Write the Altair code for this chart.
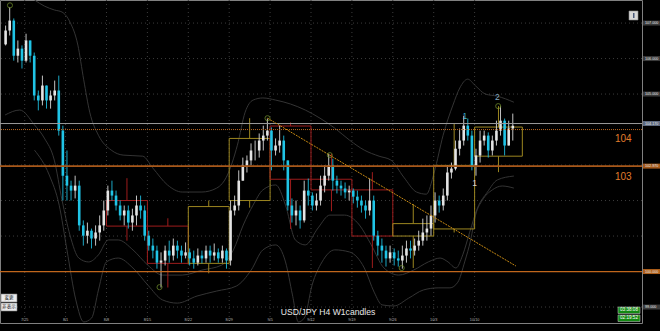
import altair as alt
import pandas as pd

# ---------------- data ----------------
# 12-hour candles (3 H4 bars each), prices in JPY
open_first = 106.40
close_ = [106.79, 107.07, 106.08, 106.28, 105.94, 106.51, 106.08, 104.96, 104.82, 105.24,
          104.82, 104.96, 105.10, 103.97, 102.70, 102.42, 102.28, 102.42, 101.30, 101.01,
          101.15, 100.93, 101.10, 101.30, 101.72, 102.28, 102.14, 101.86, 101.58, 101.72,
          101.38, 101.58, 101.86, 101.72, 101.01, 100.73, 100.59, 100.25, 100.31, 100.59,
          100.45, 100.73, 100.59, 100.45, 100.54, 100.37, 100.25, 100.45, 100.37, 100.59,
          100.45, 100.54, 100.37, 100.59, 100.31, 101.72, 101.86, 102.56, 102.99, 103.13,
          103.41, 103.41, 103.69, 103.83, 103.97, 103.41, 103.55, 103.69, 103.13, 101.86,
          101.58, 101.72, 101.44, 102.28, 102.14, 101.86, 102.00, 102.42, 102.70, 102.99,
          102.56, 102.42, 102.34, 102.23, 102.28, 102.11, 102.00, 101.86, 101.72, 102.00,
          101.01, 100.73, 100.59, 100.37, 100.54, 100.37, 100.31, 100.45, 100.65, 100.59,
          100.73, 100.87, 101.10, 101.21, 101.58, 102.00, 101.86, 102.14, 102.79, 102.90,
          103.46, 103.69, 104.11, 103.83, 102.99, 103.27, 103.69, 103.83, 103.41, 103.69,
          103.97, 104.25, 103.55, 104.03, 104.11]
high_ = [106.93, 107.44, 107.13, 106.51, 106.37, 106.70, 106.37, 106.17, 105.10, 105.52,
         105.24, 105.10, 105.38, 105.52, 104.11, 103.41, 102.56, 102.70, 102.56, 101.44,
         101.38, 101.21, 101.30, 101.58, 102.00, 102.42, 102.56, 102.28, 102.00, 101.86,
         101.86, 101.77, 102.14, 102.14, 101.86, 101.15, 100.93, 100.73, 100.54, 100.73,
         100.87, 100.93, 100.87, 100.73, 100.82, 100.65, 100.59, 100.65, 100.59, 100.73,
         100.73, 100.79, 100.65, 100.73, 100.65, 102.00, 102.14, 102.85, 103.21, 103.27,
         103.61, 103.69, 103.89, 104.11, 104.31, 104.06, 103.75, 104.11, 103.83, 103.13,
         102.06, 102.00, 101.86, 102.56, 102.62, 102.23, 102.20, 102.70, 102.99, 103.32,
         103.18, 102.70, 102.56, 102.51, 102.42, 102.34, 102.28, 102.14, 102.00, 102.62,
         102.14, 101.15, 100.93, 100.73, 100.73, 100.65, 100.59, 100.73, 100.87, 100.87,
         100.93, 101.15, 101.49, 101.58, 101.86, 102.23, 102.14, 102.34, 102.99, 103.07,
         103.69, 104.03, 104.39, 104.31, 103.97, 103.46, 103.97, 103.97, 103.92, 103.83,
         104.25, 104.65, 104.31, 104.25, 104.45]
low_ = [106.37, 106.65, 105.94, 105.89, 105.72, 105.89, 105.89, 104.82, 104.54, 104.68,
        104.59, 104.59, 104.82, 103.83, 102.00, 102.00, 102.00, 102.06, 101.15, 100.73,
        100.79, 100.65, 100.73, 100.87, 101.15, 101.58, 102.00, 101.72, 101.44, 101.30,
        101.21, 101.15, 101.30, 101.49, 100.87, 100.59, 100.37, 100.08, 99.55, 100.17,
        100.25, 100.31, 100.37, 100.25, 100.37, 100.17, 100.08, 100.17, 100.23, 100.25,
        100.25, 100.31, 100.25, 100.25, 100.08, 100.17, 101.58, 101.72, 102.56, 102.79,
        102.99, 103.13, 103.21, 103.41, 103.69, 102.85, 103.27, 103.35, 102.85, 101.72,
        101.38, 101.30, 101.21, 101.38, 101.86, 101.72, 101.72, 101.86, 102.23, 102.56,
        102.28, 102.20, 102.14, 102.06, 102.00, 101.92, 101.80, 101.66, 101.49, 101.58,
        100.87, 100.45, 100.25, 100.14, 100.25, 100.17, 100.14, 100.08, 100.25, 100.37,
        100.45, 100.59, 100.73, 100.87, 101.01, 101.38, 101.66, 101.72, 102.00, 102.62,
        102.85, 103.27, 103.55, 103.69, 102.85, 102.70, 103.07, 103.55, 103.21, 103.27,
        103.55, 103.83, 103.27, 103.69, 103.69]

# faint envelope curves (bar index, price)
up_bar = [20.2, 27.4, 34.7, 40.4, 46.2, 52.0, 56.3, 60.7, 67.1, 76.5, 85.2, 99.6, 106.9, 117.7,
          128.5, 143.0, 153.8, 161.7, 169.0, 174.7, 180.5, 187.7, 197.1, 207.9, 218.8, 229.6,
          240.4, 251.3, 262.1, 272.9, 281.6, 291.0, 300.4, 307.6, 313.4, 319.9, 327.1, 332.1,
          337.9, 343.7, 350.9, 359.6, 371.8]
up_price = [107.65, 107.48, 107.37, 107.31, 107.03, 106.38, 105.40, 104.49, 103.84, 103.42,
            103.28, 103.25, 102.92, 102.44, 102.24, 102.24, 102.35, 102.72, 103.56, 104.49,
            104.83, 104.89, 104.83, 104.72, 104.55, 104.32, 104.04, 103.70, 103.42, 103.25,
            103.14, 102.66, 102.24, 102.18, 102.80, 103.84, 104.69, 105.17, 105.42, 105.23,
            105.00, 104.94, 104.77]
lo_out_bar = [20.2, 31.0, 38.3, 44.0, 50.5, 56.3, 62.1, 67.1, 72.9, 81.6, 92.4, 103.3, 114.1,
              124.9, 139.4, 153.8, 168.2, 179.1, 187.7, 197.1, 204.3, 209.4, 213.7, 218.1,
              223.8, 231.1, 240.4, 251.3, 262.1, 269.3, 275.1, 283.8, 294.6, 305.4, 316.2,
              324.9, 330.7, 335.7, 340.1, 343.7, 348.7, 356.0, 363.2, 371.8]
lo_out_price = [103.42, 102.72, 101.87, 100.61, 99.20, 98.58, 98.69, 99.48, 100.27, 100.38,
                100.10, 99.62, 99.20, 99.11, 99.31, 99.45, 99.59, 100.04, 100.61, 100.75,
                100.27, 99.34, 98.58, 98.69, 99.62, 100.27, 100.61, 100.55, 100.10, 99.42,
                99.06, 99.03, 99.25, 99.48, 99.54, 99.54, 99.70, 100.27, 100.89, 101.59,
                102.01, 102.30, 102.41, 102.35]
lo_in_bar = [-1.4, 9.4, 20.2, 27.4, 34.7, 40.4, 46.2, 52.7, 59.9, 67.1, 74.4, 81.6, 92.4,
             103.3, 114.1, 128.5, 143.0, 157.4, 166.1, 173.3, 180.5, 187.7, 197.1, 204.3,
             211.5, 218.8, 228.2, 236.8, 247.6, 258.5, 267.2, 276.5, 287.4, 298.2, 309.0,
             317.7, 323.5, 329.3, 334.3, 339.4, 345.1, 352.4, 359.6, 371.8]
lo_in_price = [104.41, 104.55, 104.13, 103.76, 103.14, 102.01, 101.03, 100.38, 100.27, 100.47,
               100.89, 100.89, 100.61, 100.18, 99.90, 99.90, 100.04, 100.18, 100.61, 101.31,
               101.87, 102.30, 102.44, 101.87, 100.89, 100.75, 101.23, 101.59, 101.59, 101.31,
               100.75, 100.10, 99.90, 100.04, 100.27, 100.38, 100.27, 100.10, 100.47, 101.11,
               101.79, 102.24, 102.58, 102.69]

# weekly (W1) candles drawn as hollow boxes
wk_start = [73, 103, 133, 163, 193, 223, 253, 283, 313, 343]
wk_end = [103, 133, 163, 193, 223, 253, 283, 313, 343, 378]
wk_open = [102.00, 101.28, 100.23, 102.00, 104.10, 102.60, 102.30, 101.00, 101.20, 103.25]
wk_high = [102.63, 101.50, 102.00, 104.32, 104.20, 103.32, 102.80, 101.90, 104.17, 104.66]
wk_low = [100.87, 99.55, 99.95, 101.80, 101.20, 101.70, 100.10, 100.10, 101.10, 102.80]
wk_close = [101.28, 100.23, 101.83, 103.75, 102.60, 102.30, 101.00, 101.35, 102.99, 104.07]

# period separators (H4 bar index of each Monday)
week_labels = ["7/25", "8/1", "8/8", "8/15", "8/22", "8/29", "9/5", "9/12", "9/19", "9/26", "10/3", "10/10"]
week_bars = [13, 43, 73, 103, 133, 163, 193, 223, 253, 283, 313, 343]

# time axis labels
date_tick_bars = [0, 14, 30, 46, 62, 78, 94, 110, 126, 142, 158, 174, 190, 206, 222, 238,
                  254, 270, 286, 302, 318, 334, 350, 366]
date_tick_labels = ["20 Jul 2016", "25 Jul 04:00", "27 Jul 20:00", "1 Aug 12:00", "4 Aug 04:00",
                    "8 Aug 20:00", "11 Aug 12:00", "16 Aug 04:00", "18 Aug 20:00", "23 Aug 12:00",
                    "26 Aug 04:00", "30 Aug 20:00", "2 Sep 12:00", "7 Sep 04:00", "9 Sep 20:00",
                    "14 Sep 12:00", "19 Sep 04:00", "21 Sep 20:00", "26 Sep 12:00", "29 Sep 04:00",
                    "3 Oct 20:00", "6 Oct 12:00", "11 Oct 04:00", "13 Oct 20:00"]

# price axis labels
price_ticks = [107.56, 107.25, 106.94, 106.63, 106.32, 106.01, 105.70, 105.39, 105.08, 104.77,
               104.46, 104.15, 103.84, 103.53, 103.22, 102.91, 102.60, 102.29, 101.98, 101.67,
               101.36, 101.05, 100.74, 100.43, 100.12, 99.81, 99.50, 99.19, 98.88]
grid_prices = [107, 106, 105, 104, 103, 102, 101, 100, 99]

# price tags on the axis
tag_price = [107.00, 106.00, 105.00, 104.17, 102.97, 100.00, 99.00]
tag_text = ["107.000", "106.000", "105.000", "104.170", "102.970", "100.000", "99.000"]
tag_bg = ["#3a3a3a", "#3a3a3a", "#3a3a3a", "#5e6a80", "#a2581a", "#b0601a", "#3a3a3a"]

# horizontal lines
line_prices = [104.17, 104.00, 102.97, 100.00]
line_colors = ["#9a9a9a", "#b8641e", "#a8581a", "#c0661c"]
line_widths = [1, 1, 1.6, 1.3]
line_dash = ["solid", "dot", "solid", "solid"]

# trend line
trend_bar = [191.1, 373.3]
trend_price = [104.32, 100.155]

# zigzag turning points
zz_bar = [2.2, 111.9, 191.1, 236.8, 289.5, 360.3]
zz_price = [107.50, 99.56, 104.32, 103.28, 100.10, 104.66]

# wave labels
wave_text = ["1", "2", "1"]
wave_bar = [335.8, 359.6, 343.0]
wave_price = [104.39, 104.92, 102.50]
wave_color = ["#3fb6cc", "#86aac0", "#d0d0d0"]

level_text = ["104", "103"]
level_bar = [452, 452]
level_price = [103.73, 102.66]

# ---------------- tables ----------------
opens = [open_first] + close_[:-1]
candles = pd.DataFrame({
    "bar": [3 * k - 1 for k in range(len(close_))],
    "open": opens, "close": close_,
})
candles["high"] = [max(h, o, c) for h, o, c in zip(high_, opens, close_)]
candles["low"] = [min(l, o, c) for l, o, c in zip(low_, opens, close_)]
candles["col"] = ["#e4e4e4" if c >= o else "#20c4e6" for o, c in zip(opens, close_)]

weeks = pd.DataFrame({"s": wk_start, "e": wk_end, "o": wk_open, "h": wk_high,
                      "l": wk_low, "c": wk_close})
weeks["top"] = weeks[["o", "c"]].max(axis=1)
weeks["bot"] = weeks[["o", "c"]].min(axis=1)
weeks["mid"] = (weeks["s"] + weeks["e"]) / 2
weeks["col"] = ["#9c8620" if c >= o else "#9e1c1c" for o, c in zip(wk_open, wk_close)]

bands = pd.concat([
    pd.DataFrame({"bar": up_bar, "p": up_price, "band": "upper"}),
    pd.DataFrame({"bar": lo_out_bar, "p": lo_out_price, "band": "lower_outer"}),
    pd.DataFrame({"bar": lo_in_bar, "p": lo_in_price, "band": "lower_inner"}),
])

xs = alt.Scale(domain=[-1.44, 462.1], nice=False, zero=False)
ys = alt.Scale(domain=[98.55, 107.65], nice=False, zero=False)

lab_js = "[" + ",".join("'%s'" % s for s in date_tick_labels) + "]"
bars_js = "[" + ",".join(str(b) for b in date_tick_bars) + "]"
x_axis = alt.Axis(orient="bottom", values=date_tick_bars,
                  labelExpr=f"{lab_js}[indexof({bars_js}, datum.value)]",
                  labelAlign="left", labelFontSize=3.7, labelFont="Liberation Sans",
                  labelColor="#c8c8c8", tickColor="#909090", tickSize=2, domainColor="#909090",
                  labelPadding=0, grid=False, title=None, labelOverlap=False,
                  labelBound=False, labelFlush=False)
y_axis = alt.Axis(orient="right", values=price_ticks, format=".3f", labelFontSize=3.7,
                  labelFont="Liberation Sans", labelColor="#c8c8c8", tickColor="#909090",
                  tickSize=2, domainColor="#909090", labelPadding=1, grid=False, title=None,
                  labelOverlap=False, labelBound=False, labelFlush=False)

X = lambda f: alt.X(f, type="quantitative", scale=xs, axis=None)
Y = lambda f: alt.Y(f, type="quantitative", scale=ys, axis=None)

band_lines = alt.Chart(bands).mark_line(
    color="#343434", strokeWidth=1, interpolate="monotone", clip=True).encode(
    x=X("bar"), y=Y("p"), detail="band:N")

grid_h = alt.Chart(pd.DataFrame({"p": grid_prices})).mark_rule(
    color="#3c3c3c", strokeDash=[1, 3], strokeWidth=1).encode(
    y=alt.Y("p:Q", scale=ys, axis=y_axis))
grid_v = alt.Chart(pd.DataFrame({"bar": week_bars, "lab": week_labels})).mark_rule(
    color="#3c3c3c", strokeDash=[1, 3], strokeWidth=1).encode(
    x=alt.X("bar:Q", scale=xs, axis=x_axis))
week_txt = alt.Chart(pd.DataFrame({"bar": week_bars, "lab": week_labels})).mark_text(
    fontSize=3.8, font="Liberation Sans", color="#b0b0b0", baseline="middle").encode(
    x=X("bar"), y=alt.value(320), text="lab:N")

box = alt.Chart(weeks).mark_rect(fillOpacity=0, strokeWidth=1).encode(
    x=X("s"), x2="e", y=Y("top"), y2="bot", stroke=alt.Color("col:N", scale=None))
wick_up = alt.Chart(weeks).mark_rule(strokeWidth=1).encode(
    x=X("mid"), y=Y("h"), y2="top", color=alt.Color("col:N", scale=None))
wick_dn = alt.Chart(weeks).mark_rule(strokeWidth=1).encode(
    x=X("mid"), y=Y("bot"), y2="l", color=alt.Color("col:N", scale=None))

c_wick = alt.Chart(candles).mark_rule(strokeWidth=1, opacity=0.85).encode(
    x=X("bar"), y=Y("high"), y2="low", color=alt.Color("col:N", scale=None))
c_body = alt.Chart(candles).mark_bar(size=2.6).encode(
    x=X("bar"), y=Y("open"), y2="close", color=alt.Color("col:N", scale=None))

lines_df = pd.DataFrame({"p": line_prices, "col": line_colors, "w": line_widths, "d": line_dash})
hl_solid = alt.Chart(lines_df[lines_df.d == "solid"]).mark_rule().encode(
    y=Y("p"), color=alt.Color("col:N", scale=None), strokeWidth=alt.StrokeWidth("w:Q", scale=None))
hl_dot = alt.Chart(lines_df[lines_df.d == "dot"]).mark_rule(strokeDash=[1, 1]).encode(
    y=Y("p"), color=alt.Color("col:N", scale=None), strokeWidth=alt.StrokeWidth("w:Q", scale=None))

tags = pd.DataFrame({"p": tag_price, "t": tag_text, "bg": tag_bg})
tag_box = alt.Chart(tags).mark_rect(height=5).encode(
    x=alt.value(643), x2=alt.value(660), y=Y("p"), color=alt.Color("bg:N", scale=None))
tag_txt = alt.Chart(tags).mark_text(fontSize=3.7, font="Liberation Sans", color="#e8e8e8",
                                    align="left", baseline="middle").encode(
    x=alt.value(645), y=Y("p"), text="t:N")

trend = alt.Chart(pd.DataFrame({"bar": trend_bar, "p": trend_price})).mark_line(
    color="#c88a12", strokeWidth=1, strokeDash=[2, 1]).encode(x=X("bar"), y=Y("p"))

zz = alt.Chart(pd.DataFrame({"bar": zz_bar, "p": zz_price})).mark_point(
    shape="circle", size=26, color="#7a9a30", strokeWidth=1, filled=False).encode(
    x=X("bar"), y=Y("p"))

waves = alt.Chart(pd.DataFrame({"bar": wave_bar, "p": wave_price, "t": wave_text,
                                "col": wave_color})).mark_text(
    fontSize=8.5, font="Liberation Sans", baseline="middle").encode(
    x=X("bar"), y=Y("p"), text="t:N", color=alt.Color("col:N", scale=None))
levels = alt.Chart(pd.DataFrame({"bar": level_bar, "p": level_price, "t": level_text})).mark_text(
    fontSize=10, font="Liberation Sans", color="#e07c2c", baseline="middle").encode(
    x=X("bar"), y=Y("p"), text="t:N")

title = alt.Chart(pd.DataFrame({"t": ["USD/JPY H4 W1candles"]})).mark_text(
    fontSize=8.6, font="Liberation Sans", color="#e8e8e8", baseline="middle").encode(
    x=alt.value(328), y=alt.value(312), text="t:N")

# UI buttons and timers
btn_df = pd.DataFrame({"x": [1, 1], "x2": [17, 17], "y": [294, 303], "y2": [302, 311],
                       "t": ["変更", "非表示"], "cx": [9, 9], "cy": [298, 307]})
btn = alt.Chart(btn_df).mark_rect(fill="#ececec", stroke="#7a7a7a", strokeWidth=0.6).encode(
    x=alt.X("x:Q", scale=None), x2="x2:Q", y=alt.Y("y:Q", scale=None), y2="y2:Q")
btn_t = alt.Chart(btn_df).mark_text(fontSize=4.6, font="Noto Sans CJK JP", color="#111111",
                                    baseline="middle").encode(
    x=alt.X("cx:Q", scale=None), y=alt.Y("cy:Q", scale=None), text="t:N")

tim_df = pd.DataFrame({"x": [618, 618], "x2": [640, 640], "y": [307, 315], "y2": [313.5, 321.5],
                       "t": ["03:38:08", "02:19:52"], "cx": [629, 629], "cy": [310.3, 318.3]})
tim = alt.Chart(tim_df).mark_rect(fill="#138a13", stroke="#d0d0d0", strokeWidth=0.5).encode(
    x=alt.X("x:Q", scale=None), x2="x2:Q", y=alt.Y("y:Q", scale=None), y2="y2:Q")
tim_t = alt.Chart(tim_df).mark_text(fontSize=4.6, font="Liberation Sans", color="#ffffff",
                                    baseline="middle").encode(
    x=alt.X("cx:Q", scale=None), y=alt.Y("cy:Q", scale=None), text="t:N")

icon = alt.Chart(pd.DataFrame({"x": [629], "x2": [638], "y": [11], "y2": [20]})).mark_rect(
    fill="#d8d8d8", stroke="#8a8a8a", strokeWidth=0.6).encode(
    x=alt.X("x:Q", scale=None), x2="x2:Q", y=alt.Y("y:Q", scale=None), y2="y2:Q")
icon_bar = alt.Chart(pd.DataFrame({"x": [633], "x2": [634.5], "y": [13], "y2": [18]})).mark_rect(
    fill="#4a5a7a").encode(
    x=alt.X("x:Q", scale=None), x2="x2:Q", y=alt.Y("y:Q", scale=None), y2="y2:Q")

chart = alt.layer(
    band_lines, grid_h, grid_v, week_txt, box, wick_up, wick_dn, c_wick, c_body, hl_solid, hl_dot,
    tag_box, tag_txt, trend, zz, waves, levels, title, btn, btn_t, tim, tim_t, icon, icon_bar
).properties(
    width=642, height=323,
    padding={"left": 0, "top": 0, "right": 18, "bottom": 8},
    autosize=alt.AutoSizeParams(type="none"),
).configure(background="#000000").configure_view(stroke="#808080", strokeWidth=1)

chart.save("out.html", embed_options={"renderer": "svg", "actions": False})
